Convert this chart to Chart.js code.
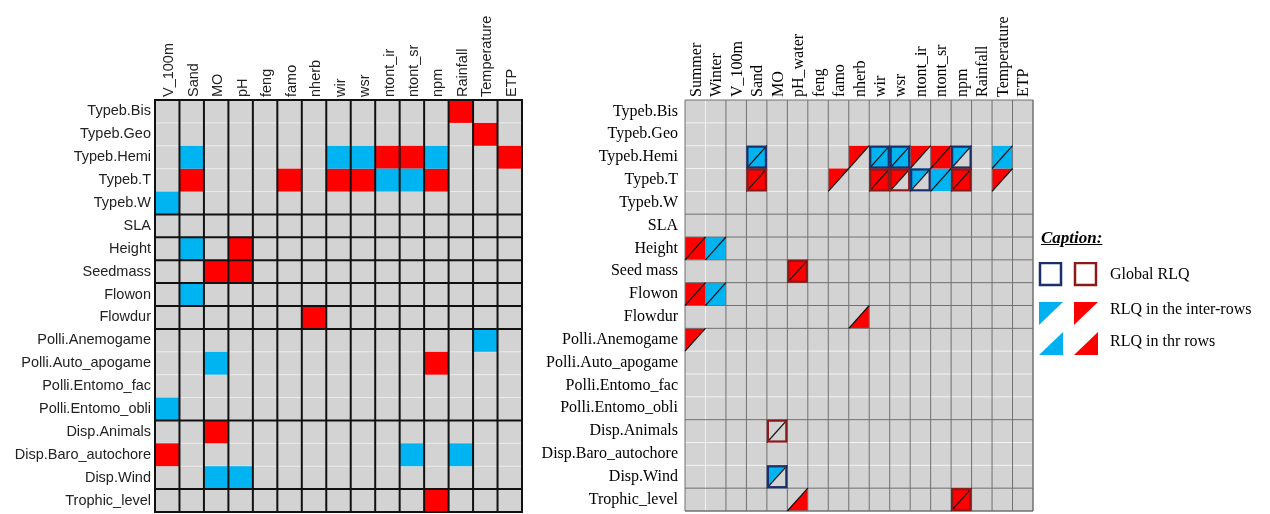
<!DOCTYPE html>
<html>
<head>
<meta charset="utf-8">
<script src="https://cdn.jsdelivr.net/npm/chart.js@4.4.0/dist/chart.umd.min.js"></script>
<style>
  body { margin: 0; background: #fff; }
  #wrap { position: relative; width: 1270px; height: 514px; overflow: hidden; }
  #leftBox { position: absolute; left: 0; top: 0; }
  #rightBox { position: absolute; left: 530px; top: 0; }
  #caption { position: absolute; left: 1038px; top: 228px; font-family: 'Liberation Serif', serif; font-size: 16px; color: #000; }
  #caption .title { font-weight: bold; font-style: italic; text-decoration: underline; font-size: 17px; margin-left: 3px; }
  #caption .row { position: absolute; left: 0; width: 240px; height: 26px; }
  #caption .row span { position: absolute; left: 72px; top: 3px; white-space: nowrap; }
</style>
</head>
<body>
<div id="wrap">
  <div id="leftBox"><canvas id="leftChart" width="530" height="514"></canvas></div>
  <div id="rightBox"><canvas id="rightChart" width="510" height="514"></canvas></div>
  <div id="caption">
    <div class="title">Caption:</div>
    <div class="row" style="top:34px">
      <svg width="62" height="26"><rect x="2" y="1" width="21" height="22" fill="none" stroke="#1b2f6b" stroke-width="2.5"/><rect x="37" y="1" width="21" height="22" fill="none" stroke="#8b1a1a" stroke-width="2.5"/></svg>
      <span>Global RLQ</span>
    </div>
    <div class="row" style="top:73px">
      <svg width="62" height="26"><polygon points="1,1 25,1 1,24" fill="#00b0f0"/><polygon points="36,1 60,1 36,24" fill="#ff0000"/></svg>
      <span style="top:-1px">RLQ in the inter-rows</span>
    </div>
    <div class="row" style="top:103px">
      <svg width="62" height="26"><polygon points="1,24 25,24 25,1" fill="#00b0f0"/><polygon points="36,24 60,24 60,1" fill="#ff0000"/></svg>
      <span style="top:1px">RLQ in thr rows</span>
    </div>
  </div>
</div>
<script>
// Left panel: traits x environment
const leftRows = ["Typeb.Bis", "Typeb.Geo", "Typeb.Hemi", "Typeb.T", "Typeb.W", "SLA", "Height", "Seedmass",
  "Flowon", "Flowdur", "Polli.Anemogame", "Polli.Auto_apogame", "Polli.Entomo_fac", "Polli.Entomo_obli",
  "Disp.Animals", "Disp.Baro_autochore", "Disp.Wind", "Trophic_level"];
const leftCols = ["V_100m", "Sand", "MO", "pH", "feng", "famo", "nherb", "wir", "wsr", "ntont_ir", "ntont_sr",
  "npm", "Rainfall", "Temperature", "ETP"];

// positive links (red) and negative links (blue): [row, column]
const leftRed = [
  ["Typeb.Bis", "Rainfall"], ["Typeb.Geo", "Temperature"],
  ["Typeb.Hemi", "ntont_ir"], ["Typeb.Hemi", "ntont_sr"], ["Typeb.Hemi", "ETP"],
  ["Typeb.T", "Sand"], ["Typeb.T", "famo"], ["Typeb.T", "wir"], ["Typeb.T", "wsr"], ["Typeb.T", "npm"],
  ["Height", "pH"], ["Seedmass", "MO"], ["Seedmass", "pH"], ["Flowdur", "nherb"],
  ["Polli.Auto_apogame", "npm"], ["Disp.Animals", "MO"], ["Disp.Baro_autochore", "V_100m"],
  ["Trophic_level", "npm"]
];
const leftBlue = [
  ["Typeb.Hemi", "Sand"], ["Typeb.Hemi", "wir"], ["Typeb.Hemi", "wsr"], ["Typeb.Hemi", "npm"],
  ["Typeb.T", "ntont_ir"], ["Typeb.T", "ntont_sr"], ["Typeb.W", "V_100m"],
  ["Height", "Sand"], ["Flowon", "Sand"], ["Polli.Anemogame", "Temperature"],
  ["Polli.Auto_apogame", "MO"], ["Polli.Entomo_obli", "V_100m"],
  ["Disp.Baro_autochore", "ntont_sr"], ["Disp.Baro_autochore", "Rainfall"],
  ["Disp.Wind", "MO"], ["Disp.Wind", "pH"]
];

// Right panel
const rightRows = ["Typeb.Bis", "Typeb.Geo", "Typeb.Hemi", "Typeb.T", "Typeb.W", "SLA", "Height", "Seed mass",
  "Flowon", "Flowdur", "Polli.Anemogame", "Polli.Auto_apogame", "Polli.Entomo_fac", "Polli.Entomo_obli",
  "Disp.Animals", "Disp.Baro_autochore", "Disp.Wind", "Trophic_level"];
const rightCols = ["Summer", "Winter", "V_100m", "Sand", "MO", "pH_water", "feng", "famo", "nherb", "wir", "wsr",
  "ntont_ir", "ntont_sr", "npm", "Rainfall", "Temperature", "ETP"];

// RLQ in the inter-rows (upper-left triangle): [row, column, sign]
const interRows = [
  ["Typeb.Hemi", "Sand", "-"], ["Typeb.Hemi", "nherb", "+"], ["Typeb.Hemi", "wir", "-"], ["Typeb.Hemi", "wsr", "-"],
  ["Typeb.Hemi", "ntont_ir", "+"], ["Typeb.Hemi", "ntont_sr", "+"], ["Typeb.Hemi", "npm", "-"],
  ["Typeb.Hemi", "Temperature", "-"],
  ["Typeb.T", "Sand", "+"], ["Typeb.T", "famo", "+"], ["Typeb.T", "wir", "+"], ["Typeb.T", "wsr", "+"],
  ["Typeb.T", "ntont_ir", "-"], ["Typeb.T", "ntont_sr", "-"], ["Typeb.T", "npm", "+"], ["Typeb.T", "Temperature", "+"],
  ["Height", "Summer", "+"], ["Height", "Winter", "-"], ["Seed mass", "pH_water", "+"],
  ["Flowon", "Summer", "+"], ["Flowon", "Winter", "-"], ["Polli.Anemogame", "Summer", "+"],
  ["Disp.Wind", "MO", "-"], ["Trophic_level", "npm", "+"]
];
// RLQ in the rows (lower-right triangle)
const inRows = [
  ["Typeb.Hemi", "Sand", "-"], ["Typeb.Hemi", "wir", "-"], ["Typeb.Hemi", "wsr", "-"], ["Typeb.Hemi", "ntont_sr", "+"],
  ["Typeb.Hemi", "Temperature", "-"],
  ["Typeb.T", "Sand", "+"], ["Typeb.T", "wir", "+"], ["Typeb.T", "ntont_sr", "-"], ["Typeb.T", "npm", "+"],
  ["Height", "Summer", "+"], ["Height", "Winter", "-"], ["Seed mass", "pH_water", "+"],
  ["Flowon", "Summer", "+"], ["Flowon", "Winter", "-"], ["Flowdur", "nherb", "+"],
  ["Trophic_level", "pH_water", "+"], ["Trophic_level", "npm", "+"]
];
// Global RLQ (cell frame)
const globalRLQ = [
  ["Typeb.Hemi", "Sand", "-"], ["Typeb.Hemi", "wir", "-"], ["Typeb.Hemi", "wsr", "-"], ["Typeb.Hemi", "npm", "-"],
  ["Typeb.T", "Sand", "+"], ["Typeb.T", "wir", "+"], ["Typeb.T", "wsr", "+"], ["Typeb.T", "ntont_ir", "-"],
  ["Typeb.T", "npm", "+"], ["Seed mass", "pH_water", "+"], ["Disp.Animals", "MO", "+"],
  ["Disp.Wind", "MO", "-"], ["Trophic_level", "npm", "+"]
];

const GRAY = "#d3d3d3";
const RED = "#ff0000";
const BLUE = "#00b4f2";

// group of a row label (Typeb.*, Polli.*, Disp.* are one group each)
function groupOf(label) {
  return label.indexOf(".") > 0 ? label.split(".")[0] : label;
}

function cellBox(chart, r, c) {
  const xs = chart.scales.x, ys = chart.scales.y;
  const cw = (xs.right - xs.left) / xs.getLabels().length;
  const ch = (ys.bottom - ys.top) / ys.getLabels().length;
  const cx = xs.getPixelForValue(c), cy = ys.getPixelForValue(r);
  return { l: cx - cw / 2, r: cx + cw / 2, t: cy - ch / 2, b: cy + ch / 2 };
}

function hLine(ctx, x1, x2, y, color, w) {
  ctx.strokeStyle = color; ctx.lineWidth = w;
  ctx.beginPath(); ctx.moveTo(x1, y); ctx.lineTo(x2, y); ctx.stroke();
}
function vLine(ctx, x, y1, y2, color, w) {
  ctx.strokeStyle = color; ctx.lineWidth = w;
  ctx.beginPath(); ctx.moveTo(x, y1); ctx.lineTo(x, y2); ctx.stroke();
}

const leftCellsPlugin = {
  id: "leftCells",
  beforeDatasetsDraw(chart) {
    const ctx = chart.ctx, a = chart.chartArea;
    ctx.save();
    ctx.fillStyle = GRAY;
    ctx.fillRect(a.left, a.top, a.right - a.left, a.bottom - a.top);
    leftRows.forEach((lab, i) => {
      if (i > 0) hLine(ctx, a.left, a.right, cellBox(chart, i, 0).t, "#ececec", 1);
    });
    ctx.fillStyle = RED;
    leftRed.forEach(([row, col]) => {
      const b = cellBox(chart, leftRows.indexOf(row), leftCols.indexOf(col));
      ctx.fillRect(b.l, b.t, b.r - b.l, b.b - b.t);
    });
    ctx.fillStyle = BLUE;
    leftBlue.forEach(([row, col]) => {
      const b = cellBox(chart, leftRows.indexOf(row), leftCols.indexOf(col));
      ctx.fillRect(b.l, b.t, b.r - b.l, b.b - b.t);
    });
    leftCols.forEach((lab, j) => {
      const b = cellBox(chart, 0, j);
      vLine(ctx, b.l, a.top, a.bottom, "#111", 2);
      if (j === leftCols.length - 1) vLine(ctx, b.r, a.top, a.bottom, "#111", 2);
    });
    leftRows.forEach((lab, i) => {
      const b = cellBox(chart, i, 0);
      if (i === 0 || groupOf(lab) !== groupOf(leftRows[i - 1])) hLine(ctx, a.left - 1, a.right + 1, b.t, "#111", 2);
      if (i === leftRows.length - 1) hLine(ctx, a.left - 1, a.right + 1, b.b, "#111", 2);
    });
    ctx.restore();
  }
};

const rightCellsPlugin = {
  id: "rightCells",
  beforeDatasetsDraw(chart) {
    const ctx = chart.ctx, a = chart.chartArea;
    const rc = (row, col) => cellBox(chart, rightRows.indexOf(row), rightCols.indexOf(col));
    const tint = s => (s === "+" ? RED : BLUE);
    ctx.save();
    ctx.fillStyle = GRAY;
    ctx.fillRect(a.left, a.top, a.right - a.left, a.bottom - a.top);

    // light separators inside groups
    rightRows.forEach((lab, i) => {
      if (i > 0 && groupOf(lab) === groupOf(rightRows[i - 1])) hLine(ctx, a.left, a.right, cellBox(chart, i, 0).t, "#f2f2f2", 1);
    });
    vLine(ctx, cellBox(chart, 0, 1).l, a.top, a.bottom, "#f2f2f2", 1);

    // triangles
    interRows.forEach(([row, col, s]) => {
      const b = rc(row, col);
      ctx.fillStyle = tint(s);
      ctx.beginPath(); ctx.moveTo(b.l, b.t); ctx.lineTo(b.r, b.t); ctx.lineTo(b.l, b.b); ctx.closePath(); ctx.fill();
    });
    inRows.forEach(([row, col, s]) => {
      const b = rc(row, col);
      ctx.fillStyle = tint(s);
      ctx.beginPath(); ctx.moveTo(b.l, b.b); ctx.lineTo(b.r, b.b); ctx.lineTo(b.r, b.t); ctx.closePath(); ctx.fill();
    });

    // dark separators
    rightCols.forEach((lab, j) => {
      const b = cellBox(chart, 0, j);
      if (j !== 1) vLine(ctx, b.l, a.top, a.bottom, "#707070", 1);
      if (j === rightCols.length - 1) vLine(ctx, b.r, a.top, a.bottom, "#707070", 1.5);
    });
    rightRows.forEach((lab, i) => {
      const b = cellBox(chart, i, 0);
      if (i === 0 || groupOf(lab) !== groupOf(rightRows[i - 1])) hLine(ctx, a.left, a.right, b.t, "#707070", 1);
      if (i === rightRows.length - 1) hLine(ctx, a.left, a.right, b.b, "#707070", 1.5);
    });

    // diagonals for every marked cell
    const marked = {};
    [...interRows, ...inRows, ...globalRLQ].forEach(([row, col]) => { marked[row + "|" + col] = [row, col]; });
    ctx.strokeStyle = "#111"; ctx.lineWidth = 1.2;
    Object.values(marked).forEach(([row, col]) => {
      const b = rc(row, col);
      ctx.beginPath(); ctx.moveTo(b.l, b.b); ctx.lineTo(b.r, b.t); ctx.stroke();
    });

    // global RLQ frames
    globalRLQ.forEach(([row, col, s]) => {
      const b = rc(row, col);
      ctx.strokeStyle = s === "+" ? "#8b1a1a" : "#1b2f6b";
      ctx.lineWidth = 2.2;
      ctx.strokeRect(b.l + 1, b.t + 1, b.r - b.l - 2, b.b - b.t - 2);
    });
    ctx.restore();
  }
};

function gridOptions(rows, cols, font, color, yPad, xShift, padRight, padBottom) {
  return {
    responsive: false,
    animation: false,
    layout: { padding: { left: 0, right: padRight, top: 0, bottom: padBottom } },
    plugins: { legend: { display: false }, tooltip: { enabled: false } },
    scales: {
      x: {
        type: "category", labels: cols, position: "top", offset: true,
        grid: { display: false, drawTicks: false }, border: { display: false },
        ticks: { autoSkip: false, minRotation: 90, maxRotation: 90, padding: 3, labelOffset: xShift, color: color, font: font },
        afterFit: s => { s.height = 100; s.paddingLeft = 0; s.paddingRight = 0; }
      },
      y: {
        type: "category", labels: rows, offset: true,
        grid: { display: false, drawTicks: false }, border: { display: false },
        ticks: { autoSkip: false, padding: yPad, color: color, font: font },
        afterFit: s => { s.width = 155; s.paddingTop = 0; s.paddingBottom = 0; }
      }
    }
  };
}

new Chart(document.getElementById("leftChart"), {
  type: "scatter",
  data: { datasets: [{ data: [], pointRadius: 0 }] },
  options: gridOptions(leftRows, leftCols, { family: "'Liberation Sans', Arial, sans-serif", size: 14.5 }, "#222", 4, 19.5, 8, 2),
  plugins: [leftCellsPlugin]
});

new Chart(document.getElementById("rightChart"), {
  type: "scatter",
  data: { datasets: [{ data: [], pointRadius: 0 }] },
  options: gridOptions(rightRows, rightCols, { family: "'Liberation Serif', 'Times New Roman', serif", size: 16 }, "#000", 7, 20.5, 7, 3),
  plugins: [rightCellsPlugin]
});
</script>
</body>
</html>
